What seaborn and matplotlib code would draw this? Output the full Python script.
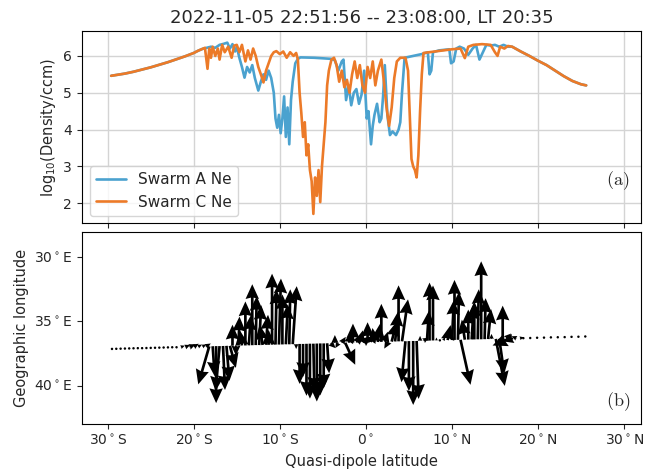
import matplotlib
matplotlib.use("Agg")
import matplotlib.pyplot as plt
import numpy as np
import pandas as pd
import seaborn as sns

# ---- density along track ----
lat_a = [-29.6, -28, -27, -26, -25, -24, -23, -22, -21, -20, -19.5, -19,
         -18.5, -18, -17.5, -17, -16.5, -16.1, -15.8, -15.5, -15.2, -15, -14.7,
         -14.4, -14.1, -13.8, -13.5, -13.2, -12.9, -12.5, -12.2, -11.9, -11.6,
         -11.3, -11.0, -10.7, -10.5, -10.3, -10.1, -9.9, -9.7, -9.5, -9.3, -9.1,
         -8.9, -8.7, -8.5, -8.2, -7.9, -7.6, -6, -4, -3.6, -3.2, -2.8, -2.6,
         -2.3, -2.0, -1.7, -1.4, -1.1, -0.8, -0.5, -0.2, 0.1, 0.3, 0.6, 0.8,
         1.0, 1.3, 1.6, 1.8, 2.0, 2.2, 2.5, 2.8, 3.1, 3.5, 3.8, 4.0, 4.2, 4.5,
         5.5, 6.5, 7.2, 7.4, 7.6, 7.8, 8.5, 9.7, 9.9, 10.2, 10.5, 10.9, 11.4,
         11.9, 12.4, 12.8, 13.2, 13.6, 14, 14.5, 15, 15.5, 16, 16.5, 17, 18, 19,
         20, 21, 22, 23, 24, 25, 25.6]
ne_a = [5.46, 5.52, 5.57, 5.63, 5.69, 5.76, 5.83, 5.91, 5.99, 6.08, 6.14, 6.19,
        6.22, 6.25, 6.22, 6.3, 6.33, 6.36, 6.2, 6.32, 6.12, 6.25, 5.95,
        5.7, 5.41, 5.7, 5.55, 5.75, 5.4, 5.06, 5.3, 5.5, 5.35,
        5.6, 5.4, 5.0, 4.3, 4.05, 4.4, 3.9, 4.3, 4.9, 3.8, 4.6,
        3.6, 4.8, 5.3, 5.8, 5.92, 5.96, 5.95, 5.92, 5.88, 5.6, 5.85, 5.9,
        4.8, 5.2, 4.66, 5.0, 5.1, 4.7, 4.95, 5.6, 4.3, 4.5, 3.6, 4.1,
        4.4, 4.7, 4.2, 4.3, 4.9, 5.75, 4.4, 3.85, 3.95, 3.85, 4.0, 4.2, 5.0, 5.95,
        6.0, 6.05, 6.1, 5.5, 5.6, 6.1, 6.15, 6.18, 5.8, 5.85, 6.2, 6.25, 6.2,
        6.03, 6.2, 6.3, 5.9, 6.1, 6.3, 6.28, 6.3, 6.25, 6.3, 6.25, 6.25, 6.12, 6.0,
        5.87, 5.75, 5.6, 5.45, 5.32, 5.23, 5.2]

lat_c = [-29.6, -28, -27, -26, -25, -24, -23, -22, -21, -20, -19.5, -19,
         -18.7, -18.4, -18.2, -18.0, -17.8, -17.5, -17.2, -17, -16.7, -16.4, -16,
         -15.6, -15.3, -15.0, -14.7, -14.4, -14.0, -13.7, -13.4, -13.1, -12.8,
         -12.5, -12.2, -11.9, -11.6, -11.3, -11, -10.7, -10.4, -10, -9.6, -9.2,
         -8.8, -8.4, -8.1, -7.9, -7.7, -7.5, -7.3, -7.1, -6.9, -6.7, -6.5, -6.3,
         -6.1, -5.9, -5.7, -5.5, -5.3, -5.1, -4.9, -4.7, -4.5, -4.3, -4.0, -3.7,
         -3.4, -3.1, -2.8, -2.5, -2.2, -1.9, -1.6, -1.3, -1.0, -0.7, -0.4, -0.1,
         0.2, 0.5, 0.8, 1.1, 1.4, 1.8, 2.1, 2.4, 2.7, 3.0, 3.3, 3.6, 4.0, 4.6,
         4.9, 5.1, 5.3, 5.5, 5.7, 5.9, 6.1, 6.3, 6.5, 6.7, 8, 10, 11, 11.5, 11.9,
         12.5, 13.5, 14.5, 15, 15.3, 15.6, 16.1, 16.5, 17, 18, 19, 20, 21, 22, 23,
         24, 25, 25.6]
ne_c = [5.46, 5.52, 5.57, 5.63, 5.69, 5.76, 5.83, 5.91, 5.99, 6.08, 6.14, 6.19,
        6.22, 5.65, 6.2, 5.95, 6.25, 6.0, 6.2, 5.9, 6.3, 6.1, 6.25,
        5.95, 6.28, 6.3, 6.1, 6.3, 5.85, 6.15, 5.9, 6.2, 6.0,
        5.7, 5.5, 5.28, 5.6, 5.8, 6.0, 6.1, 6.13, 6.05, 6.12, 5.95,
        6.1, 6.0, 6.08, 5.9, 5.0, 4.45, 3.8, 4.2, 3.3, 3.6, 2.9, 2.6,
        1.71, 2.7, 2.2, 2.9, 2.03, 3.0, 3.6, 4.2, 5.2, 5.6, 5.9, 5.95,
        5.75, 5.3, 5.6, 5.15, 5.35, 5.0, 5.5, 5.85, 5.4, 5.75, 5.2, 5.0,
        5.7, 5.4, 5.85, 5.2, 5.6, 5.9, 5.3, 4.6, 4.1, 4.6, 5.4, 5.85, 5.95, 5.95,
        5.6, 4.4, 3.2, 3.0, 2.9, 2.7, 3.3, 4.5, 5.5, 6.08, 6.12, 6.18, 6.2, 5.94, 6.25,
        6.3, 6.32, 6.3, 6.1, 6.0, 6.25, 6.2, 6.27, 6.25, 6.12, 6.0, 5.87, 5.75, 5.6, 5.45,
        5.32, 5.23, 5.2]

# ---- drift vectors along track (m/s, east / north on screen) ----
track_lat = [-29.5, -29.0, -28.5, -28.0, -27.5, -27.0, -26.5, -26.0, -25.5, -25.0,
             -24.5, -24.0, -23.5, -23.0, -22.5, -22.0, -21.5, -21.0, -20.5, -20.0,
             -19.5, -19.0, -18.6, -18.2, -17.8, -17.4, -17.0, -16.6, -16.2, -15.8,
             -15.5, -15.1, -14.8, -14.4, -14.0, -13.6, -13.2, -12.8, -12.4, -12.0,
             -11.6, -11.3, -10.9, -10.5, -10.1, -9.7, -9.3, -8.9, -8.5, -8.1,
             -7.7, -7.3, -6.9, -6.5, -6.1, -5.7, -5.3, -4.9, -4.5, -4.1,
             -3.6, -3.2, -2.8, -2.4, -2.0, -1.5, -1.1, -0.7, -0.3, 0.2,
             0.6, 1.0, 1.4, 1.8, 2.2, 2.6, 3.0, 3.4, 3.8, 4.2,
             4.6, 5.0, 5.5, 5.9, 6.3, 6.7, 7.1, 7.4, 7.8, 8.2,
             8.6, 9.0, 9.5, 10.0, 10.3, 10.7, 11.0, 11.5, 11.9, 12.3,
             12.6, 13.0, 13.4, 13.8, 14.2, 14.6, 15.1, 15.5, 15.9, 16.3,
             16.7, 17.1, 17.5, 17.9, 18.3, 19.1, 19.9, 20.7, 21.5, 22.3,
             23.1, 23.9, 24.7, 25.5]
track_lon = [37.14, 37.13, 37.12, 37.11, 37.10, 37.09, 37.08, 37.08, 37.07, 37.06,
             37.05, 37.04, 37.03, 37.02, 37.01, 37.01, 37.00, 36.99, 36.98, 36.97,
             36.96, 36.95, 36.95, 36.94, 36.93, 36.92, 36.92, 36.91, 36.90, 36.90,
             36.89, 36.88, 36.88, 36.87, 36.87, 36.86, 36.85, 36.84, 36.84, 36.83,
             36.82, 36.82, 36.81, 36.80, 36.80, 36.79, 36.78, 36.78, 36.77, 36.76,
             36.75, 36.75, 36.74, 36.73, 36.73, 36.72, 36.71, 36.71, 36.70, 36.69,
             36.68, 36.68, 36.67, 36.66, 36.66, 36.65, 36.64, 36.63, 36.63, 36.62,
             36.61, 36.60, 36.60, 36.59, 36.58, 36.57, 36.57, 36.56, 36.55, 36.55,
             36.54, 36.53, 36.52, 36.52, 36.51, 36.50, 36.50, 36.49, 36.48, 36.48,
             36.47, 36.46, 36.45, 36.45, 36.44, 36.43, 36.43, 36.42, 36.41, 36.40,
             36.40, 36.39, 36.39, 36.38, 36.37, 36.36, 36.36, 36.35, 36.34, 36.33,
             36.33, 36.32, 36.31, 36.31, 36.30, 36.29, 36.27, 36.26, 36.24, 36.23,
             36.22, 36.20, 36.19, 36.17]
drift_u = [10, 10, 10, 10, 10, 10, 10, 10, 10, 10,
           10, 10, 10, 10, 10, 15, 40, 50, 60, 50,
           40, 40, 50, -110, 20, 0, -40, 20, 30, 60,
           0, 0, 10, -20, 0, 20, 0, 10, 20, -30,
           20, 0, 0, 10, 20, 0, 20, 10, 40, 0,
           0, 0, 0, 0, 10, 0, 0, 0, 20, 50,
           0, -30, 40, 100, 30, 0, 50, 30, 80, 0,
           40, -20, 20, 0, 30, -40, 50, 30, 0, 60,
           -40, 0, 0, 20, 0, 50, 20, 0, 0, 0,
           10, 20, 30, 20, 0, 10, 100, -30, 0, 20,
           0, 10, 0, 10, 30, 0, 90, 50, 0, 50,
           -170, -100, -50, 40, 20, 10, 10, 10, 10, 10,
           10, 10, 10, 10]
drift_v = [0, 0, 0, 0, 0, 0, 0, 0, 0, 0,
           0, 0, 0, 0, 0, 5, 15, 20, 25, 30,
           20, 20, 30, -380, -300, -570, -450, -440, -350, -220,
           210, -100, 290, 150, 440, 300, 610, 490, 400, 200,
           300, 150, 710, 550, 660, 500, 400, 550, 580, -50,
           -400, -330, -520, -550, -480, -580, -520, -450, -300, -50,
           80, -50, 60, -220, 100, 190, 80, 120, 60, 200,
           100, 140, 180, 380, 100, -70, 200, 300, 560, 420,
           -410, -500, -640, -580, 50, 30, 300, 580, 550, 30,
           5, 30, 150, 400, 600, 480, -450, 200, 300, 350,
           380, 500, 780, 410, 300, 50, -470, -350, 330, 50,
           -70, -30, 20, 10, 0, 0, 0, 0, 0, 0,
           0, 0, 0, 0]

lat_ticks = [-30, -20, -10, 0, 10, 20, 30]
lon_ticks = [30, 35, 40]
series_names = ["Swarm A Ne", "Swarm C Ne"]
line_colors = ["#4ba2cf", "#ec7a28"]


def lat_label(v):
    if v < 0:
        return f"{abs(v)}$^\\circ$S"
    if v > 0:
        return f"{v}$^\\circ$N"
    return "0$^\\circ$"


sns.set_style("ticks")
plt.rcParams["font.size"] = 10

df = pd.concat([
    pd.DataFrame({"lat": lat_a, "ne": ne_a, "sat": series_names[0]}),
    pd.DataFrame({"lat": lat_c, "ne": ne_c, "sat": series_names[1]}),
])

fig, (ax1, ax2) = plt.subplots(2, 1, figsize=(6.55, 4.75), dpi=100, sharex=True)
fig.subplots_adjust(left=0.125, right=0.979, top=0.935, bottom=0.107, hspace=0.042)

sns.lineplot(data=df, x="lat", y="ne", hue="sat", palette=line_colors,
             estimator=None, sort=False, linewidth=1.9, ax=ax1)
ax1.grid(True, color="#d4d4d4", linewidth=1.0)
ax1.set_axisbelow(True)
ax1.set_ylim(1.45, 6.68)
ax1.set_yticks([2, 3, 4, 5, 6])
ax1.set_ylabel("log$_{10}$(Density/ccm)", fontsize=10.5)
ax1.set_xlabel("")
handles, labels = ax1.get_legend_handles_labels()
ax1.legend(handles, labels, loc="lower left", fontsize=11, framealpha=0.8)
ax1.set_title("2022-11-05 22:51:56 -- 23:08:00, LT 20:35", fontsize=13)
ax1.text(0.958, 0.22, r"$\mathrm{(a)}$", transform=ax1.transAxes,
         ha="center", va="center", fontsize=13, math_fontfamily="cm")

ax2.quiver(track_lat, track_lon, drift_u, drift_v, angles="uv",
           scale_units="inches", scale=1000, width=0.0048,
           headwidth=5, headlength=5.5, headaxislength=5, color="black")
ax2.set_ylim(43, 28)
ax2.set_yticks(lon_ticks)
ax2.set_yticklabels([f"{v}$^\\circ$E" for v in lon_ticks])
ax2.set_ylabel("Geographic longitude", fontsize=10.5)
ax2.set_xlim(-33, 32)
ax2.set_xticks(lat_ticks)
ax2.set_xticklabels([lat_label(v) for v in lat_ticks])
ax2.set_xlabel("Quasi-dipole latitude", fontsize=10.5)
ax2.text(0.958, 0.115, r"$\mathrm{(b)}$", transform=ax2.transAxes,
         ha="center", va="center", fontsize=13, math_fontfamily="cm")

for ax in (ax1, ax2):
    ax.tick_params(labelsize=10)
    for s in ax.spines.values():
        s.set_color("black")

fig.savefig("out.png", dpi=100)
